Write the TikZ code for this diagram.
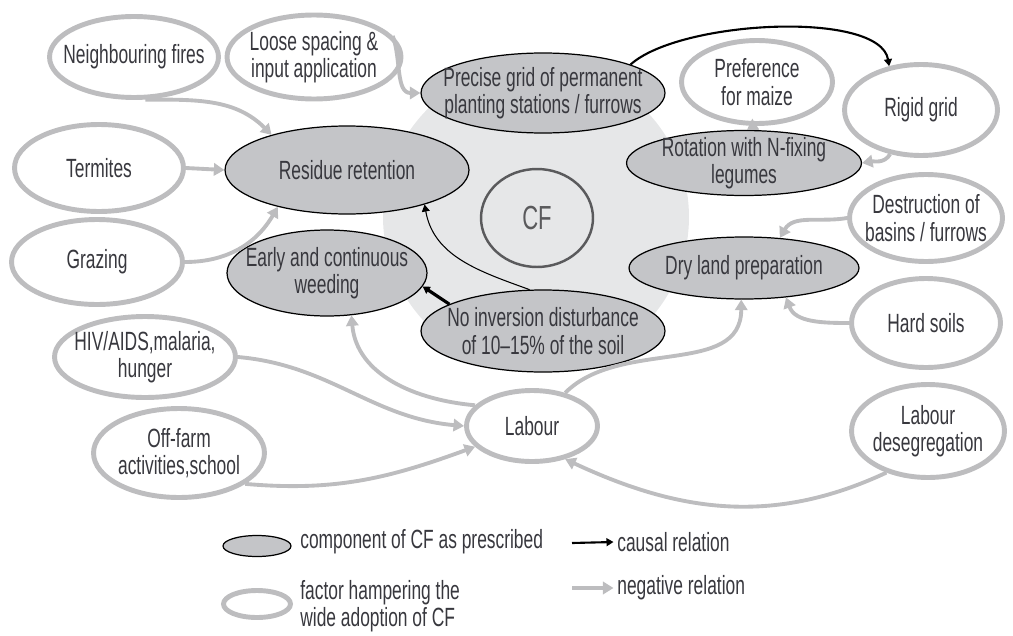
\documentclass[tikz,border=0pt]{standalone}
\usepackage{fontspec}
\setmainfont{Liberation Sans}[FakeStretch=0.66]
\usepackage{xcolor}
\usetikzlibrary{shapes.geometric,arrows.meta}
\definecolor{ringgray}{HTML}{BDBDBF}
\definecolor{compgray}{HTML}{C4C5C8}
\definecolor{bggray}{HTML}{E6E7E8}
\definecolor{txtgray}{HTML}{38383E}
\definecolor{cfgray}{HTML}{5A5A5C}

\begin{document}
\begin{tikzpicture}[x=0.02cm,y=-0.02cm,
  every node/.style={font=\fontsize{15}{15.5}\selectfont, text=txtgray, align=center},
  comp/.style={ellipse, draw=black, fill=compgray, line width=0.7pt, inner xsep=-20pt, inner ysep=-10pt},
  factor/.style={ellipse, draw=ringgray, fill=white, line width=2.8pt, inner xsep=-20pt, inner ysep=-10pt},
  neg/.style={draw=ringgray, line width=2.2pt, -{Triangle[length=6pt,width=7pt]}},
  causal/.style={draw=black, line width=1.2pt, -{Triangle[length=4pt,width=4.5pt]}}]
\useasboundingbox (0,0) rectangle (1013,635);
\fill[bggray] (536,217) circle [radius=3.06cm];
% factors
\node[factor, minimum width=3.38cm, minimum height=1.62cm] (neigh) at (134,57) {Neighbouring fires};
\node[factor, minimum width=3.48cm, minimum height=1.68cm] (loose) at (314,57) {Loose spacing \&\\input application};
\node[factor, minimum width=3.02cm, minimum height=1.66cm] (pref) at (757,82) {Preference\\for maize};
\node[factor, minimum width=3.06cm, minimum height=1.82cm] (rigid) at (921,110) {Rigid grid};
\node[factor, minimum width=3.38cm, minimum height=1.74cm] (term) at (99,168) {Termites};
\node[factor, minimum width=3.42cm, minimum height=1.70cm] (graz) at (97,262) {Grazing};
\node[factor, minimum width=3.06cm, minimum height=1.74cm] (dest) at (926,218) {Destruction of\\basins / furrows};
\node[factor, minimum width=2.98cm, minimum height=1.78cm] (hard) at (926,323) {Hard soils};
\node[factor, minimum width=3.62cm, minimum height=1.62cm] (hiv) at (145,357) {HIV/AIDS,malaria,\\hunger};
\node[factor, minimum width=2.62cm, minimum height=1.42cm] (labour) at (532,426) {Labour};
\node[factor, minimum width=3.42cm, minimum height=1.78cm] (off) at (179,453) {Off-farm\\activities,school};
\node[factor, minimum width=3.06cm, minimum height=1.86cm] (deseg) at (928,431) {Labour\\desegregation};
% components
\node[comp, minimum width=4.88cm, minimum height=1.6cm] (precise) at (543,93) {Precise grid of permanent\\planting stations / furrows};
\node[comp, minimum width=4.88cm, minimum height=1.76cm] (resid) at (347,170) {Residue retention};
\node[comp, minimum width=4.7cm, minimum height=1.3cm] (rot) at (744,163) {Rotation with N-fixing\\legumes};
\node[comp, minimum width=4.0cm, minimum height=1.72cm] (weed) at (327,273) {Early and continuous\\weeding};
\node[comp, minimum width=4.6cm, minimum height=1.24cm] (dry) at (744,268) {Dry land preparation};
\node[comp, minimum width=4.88cm, minimum height=1.64cm] (noinv) at (543,331) {No inversion disturbance\\of 10--15\% of the soil};
\node[ellipse, draw=cfgray, line width=1.4pt, minimum width=2.24cm, minimum height=1.96cm,
  font=\fontsize{19}{20}\selectfont, text=cfgray] (cf) at (537,218) {CF};
% negative relations
\draw[neg] (neigh.285) to[out=0,in=135] (resid.155);
\draw[neg] (loose.15) to[out=-70,in=180] (precise.west);
\draw[neg] (term.east) -- (resid.west);
\draw[neg] (graz.east) to[out=0,in=-120] (resid.208);
\draw[neg] (pref.265) -- (rot.85);
\draw[neg] (rigid.235) to[out=-120,in=10] (rot.east);
\draw[neg] (dest.west) to[out=190,in=60] (dry.40);
\draw[neg] (hard.west) to[out=180,in=-70] (dry.-35);
\draw[neg] (labour.160) to[out=175,in=-85] (weed.-60);
\draw[neg] (labour.45) to[out=45,in=-90] (dry.265);
\draw[neg] (hiv.east) to[out=-5,in=175] (labour.west);
\draw[neg] (off.-25) to[out=-5,in=200] (labour.200);
\draw[neg] (deseg.225) to[out=-155,in=-25] (labour.-45);
% causal relations
\draw[causal] (precise.18) .. controls (680,20) and (880,10) .. (rigid.126);
\draw[causal, line width=0.6pt] (noinv.108) to[out=160,in=-80] (resid.-24);
\draw[causal, line width=1.8pt] (noinv.164) -- (weed.-8);
% legend
\node[comp, minimum width=1.36cm, minimum height=0.42cm] (lcomp) at (257,546) {};
\node[anchor=west, inner sep=0pt] (lcomptxt) at (300,542) {component of CF as prescribed};
\node[factor, minimum width=1.34cm, minimum height=0.54cm] (lfac) at (257,604) {};
\node[anchor=west, align=left, inner sep=0pt] (lfactxt) at (300,606) {factor hampering the\\wide adoption of CF};
\node[anchor=west, inner sep=0pt] (lcaus) at (617,542) {causal relation};
\node[anchor=west, inner sep=0pt] (lneg) at (617,588) {negative relation};
\coordinate (lcausstart) at (572,543);
\coordinate (lnegstart) at (572,588);
\draw[causal] (lcausstart) -- ([xshift=-2pt]lcaus.west);
\draw[neg] (lnegstart) -- ([xshift=-2pt]lneg.west);
\end{tikzpicture}
\end{document}
